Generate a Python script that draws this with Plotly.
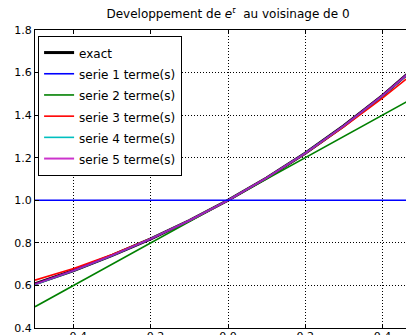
import plotly.graph_objects as go

t = [-0.5, -0.4, -0.3, -0.2, -0.1, 0.0, 0.1, 0.2, 0.3, 0.4, 0.49]
exact = [0.607, 0.670, 0.741, 0.819, 0.905, 1.0, 1.105, 1.221, 1.350, 1.492, 1.632]
serie1 = [1.0, 1.0, 1.0, 1.0, 1.0, 1.0, 1.0, 1.0, 1.0, 1.0, 1.0]
serie2 = [0.5, 0.6, 0.7, 0.8, 0.9, 1.0, 1.1, 1.2, 1.3, 1.4, 1.49]
serie3 = [0.625, 0.68, 0.745, 0.82, 0.905, 1.0, 1.105, 1.22, 1.345, 1.48, 1.61]
serie4 = [0.604, 0.669, 0.741, 0.819, 0.905, 1.0, 1.105, 1.221, 1.35, 1.491, 1.63]
serie5 = [0.607, 0.670, 0.741, 0.819, 0.905, 1.0, 1.105, 1.221, 1.35, 1.492, 1.632]

xticks = [-0.4, -0.2, 0.0, 0.2, 0.4]
xticklabels = ["\u22120.4", "\u22120.2", "0.0", "0.2", "0.4"]
yticks = [0.4, 0.6, 0.8, 1.0, 1.2, 1.4, 1.6, 1.8]
yticklabels = ["0.4", "0.6", "0.8", "1.0", "1.2", "1.4", "1.6", "1.8"]


def lab(s):
    return '<span style="font-size:12px">' + s + '</span>'


fig = go.Figure()
fig.add_trace(go.Scatter(x=t, y=exact, mode="lines", name=lab("exact"),
                         line=dict(color="black", width=3), legendrank=1))
series = [("serie 2 terme(s)", serie2, "#008000", 3),
          ("serie 3 terme(s)", serie3, "#ff0000", 4),
          ("serie 4 terme(s)", serie4, "#00bfbf", 5),
          ("serie 5 terme(s)", serie5, "#bf00bf", 6)]
for name, ys, col, rank in series:
    fig.add_trace(go.Scatter(x=t, y=ys, mode="lines", name=lab(name),
                             line=dict(color=col, width=2 if rank == 6 else 1.6),
                             opacity=0.8 if rank == 6 else 1.0,
                             legendrank=rank))
fig.add_trace(go.Scatter(x=t, y=serie1, mode="lines", name=lab("serie 1 terme(s)"),
                         line=dict(color="#0000ff", width=1.6), legendrank=2))

axis_common = dict(showline=True, linecolor="black", linewidth=1, mirror="ticks",
                   ticks="inside", ticklen=4, tickcolor="black",
                   showgrid=True, gridcolor="black", griddash="1px,2px", gridwidth=1,
                   zeroline=False, tickfont=dict(family="DejaVu Sans", size=11, color="black"))
fig.update_xaxes(range=[-0.5, 0.5], tickvals=xticks, ticktext=xticklabels,
                 ticklabelstandoff=-2, **axis_common)
fig.update_yaxes(range=[0.4, 1.8], tickvals=yticks, ticktext=yticklabels, **axis_common)

fig.update_layout(
    width=414, height=335,
    margin=dict(l=27, r=0, t=22, b=13),
    plot_bgcolor="white", paper_bgcolor="white",
    title=dict(text="Developpement de <i>e</i><sup><i>t</i></sup>  au voisinage de 0",
               x=0.5, xref="paper", y=0.995, yanchor="top",
               font=dict(family="DejaVu Sans", size=12, color="black")),
    legend=dict(x=0.008, y=0.98, xanchor="left", yanchor="top",
                bgcolor="white", bordercolor="black", borderwidth=1,
                font=dict(family="DejaVu Sans", size=14, color="black"),
                tracegroupgap=0, itemwidth=30),
    font=dict(family="DejaVu Sans"),
)

fig.write_html("out.html")
